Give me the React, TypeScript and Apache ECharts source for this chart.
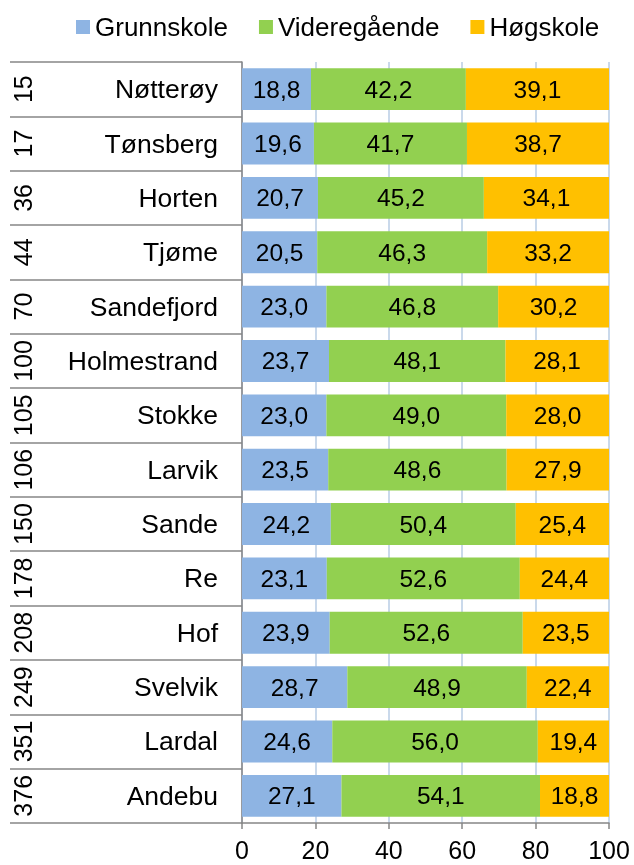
import React, { useEffect, useRef } from "react";
import * as echarts from "echarts";

const municipalities = ["Nøtterøy", "Tønsberg", "Horten", "Tjøme", "Sandefjord", "Holmestrand", "Stokke", "Larvik", "Sande", "Re", "Hof", "Svelvik", "Lardal", "Andebu"];
const ranks = ["15", "17", "36", "44", "70", "100", "105", "106", "150", "178", "208", "249", "351", "376"];
const grunnskole = [18.8, 19.6, 20.7, 20.5, 23.0, 23.7, 23.0, 23.5, 24.2, 23.1, 23.9, 28.7, 24.6, 27.1];
const videregaende = [42.2, 41.7, 45.2, 46.3, 46.8, 48.1, 49.0, 48.6, 50.4, 52.6, 52.6, 48.9, 56.0, 54.1];
const hogskole = [39.1, 38.7, 34.1, 33.2, 30.2, 28.1, 28.0, 27.9, 25.4, 24.4, 23.5, 22.4, 19.4, 18.8];
const xTicks = { min: 0, max: 100, interval: 20 };

const FONT = "'Liberation Sans', Arial, sans-serif";

export default function App() {
  const ref = useRef<HTMLDivElement>(null);
  useEffect(() => {
    if (!ref.current) return;
    const chart = echarts.init(ref.current, null, { renderer: "svg" });
    const fmt = (p: any) => Number(p.value).toFixed(1).replace(".", ",");
    const mk = (name: string, data: number[], color: string) => ({
      name,
      type: "bar",
      stack: "total",
      data,
      barCategoryGap: "23%",
      itemStyle: { color },
      label: { show: true, position: "inside", formatter: fmt, color: "#000", fontSize: 24.5, fontFamily: FONT },
    });
    chart.setOption({
      animation: false,
      textStyle: { fontFamily: FONT },
      legend: {
        top: 9,
        left: 71,
        itemWidth: 14,
        itemHeight: 14,
        itemGap: 31,
        icon: "rect",
        textStyle: { fontSize: 26, color: "#000", fontFamily: FONT },
        data: ["Grunnskole", "Videregående", "Høgskole"],
      },
      grid: { left: 242, right: 25, top: 62, bottom: 42, containLabel: false },
      xAxis: {
        type: "value",
        min: xTicks.min,
        max: xTicks.max,
        interval: xTicks.interval,
        axisLine: { show: true, lineStyle: { color: "#868686", width: 1.5 } },
        axisTick: { show: true, length: 6, lineStyle: { color: "#868686", width: 1.5 } },
        axisLabel: { fontSize: 25, color: "#000", fontFamily: FONT, margin: 14 },
        splitLine: { show: true, lineStyle: { color: "#B9CDE5", width: 1.5 } },
      },
      yAxis: [
        {
          type: "category",
          data: municipalities,
          inverse: true,
          axisLine: { show: true, lineStyle: { color: "#868686", width: 1.5 } },
          axisTick: { show: true, length: 232, lineStyle: { color: "#868686", width: 1.5 } },
          axisLabel: { fontSize: 26.5, color: "#000", fontFamily: FONT, margin: 24 },
          splitLine: { show: false },
        },
        {
          type: "category",
          data: ranks,
          inverse: true,
          position: "left",
          axisLine: { show: false },
          axisTick: { show: false },
          axisLabel: {
            fontSize: 25,
            color: "#000",
            fontFamily: FONT,
            rotate: 90,
            align: "center",
            verticalAlign: "middle",
            margin: 219,
          },
          splitLine: { show: false },
        },
      ],
      series: [
        mk("Grunnskole", grunnskole, "#8EB4E3"),
        mk("Videregående", videregaende, "#92D050"),
        mk("Høgskole", hogskole, "#FFC000"),
      ],
    });
    return () => chart.dispose();
  }, []);
  return <div ref={ref} style={{ position: "fixed", left: 0, top: 0, width: 634, height: 865 }} />;
}
